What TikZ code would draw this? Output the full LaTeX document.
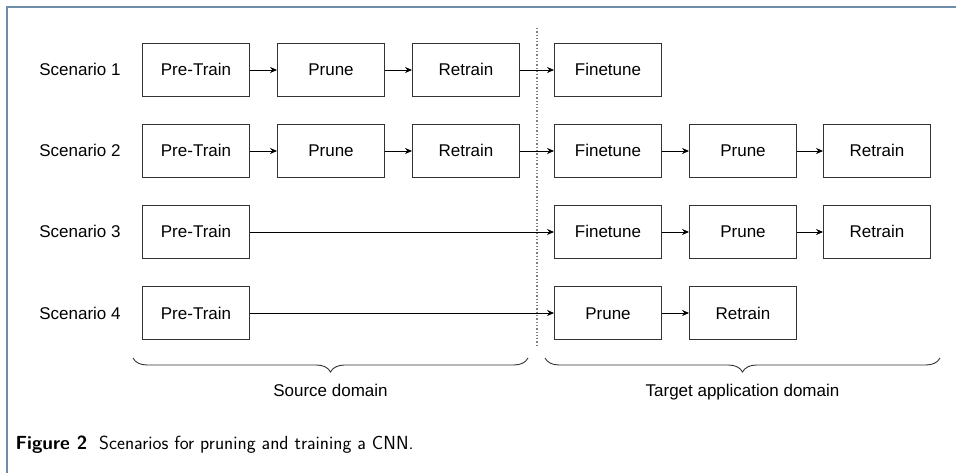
\documentclass[tikz,border=0pt]{standalone}
\usepackage{fontspec}
\setmainfont{Liberation Sans}
\usepackage{tikz}
\usetikzlibrary{arrows.meta,positioning}
\usetikzlibrary{decorations.pathreplacing}
\definecolor{framecol}{HTML}{6F8CA8}
\definecolor{boxcol}{HTML}{333333}
\tikzset{stage/.style={rectangle,draw=boxcol,line width=0.9pt,minimum width=107pt,minimum height=53pt,inner sep=0pt,text height=13pt,text depth=1pt,font=\fontsize{17}{20}\selectfont}}
\tikzset{scen/.style={text height=13pt,text depth=1pt,font=\fontsize{17}{20}\selectfont}}
\tikzset{flow/.style={-{Stealth[length=7pt,width=6pt]},line width=0.9pt}}
\tikzset{domainbrace/.style={decorate,decoration={brace,mirror,amplitude=14pt},draw=boxcol,line width=0.9pt}}

\begin{document}
\begin{tikzpicture}[x=1pt,y=-1pt]
\useasboundingbox (0,0) rectangle (956,473);
% \draw[help lines] (0,0) grid (956,473);
\draw[framecol,line width=1.5pt] (7,473) -- (7,7) -- (956,7);
%
\node (s1) [scen] at (80,70) {Scenario 1};
\node (s2) [scen] at (80,151) {Scenario 2};
\node (s3) [scen] at (80,232) {Scenario 3};
\node (s4) [scen] at (80,313) {Scenario 4};
%
\node (pt1) [stage] at (196,70) {Pre-Train};
\node (pr1) [stage] at (331,70) {Prune};
\node (rt1) [stage] at (466,70) {Retrain};
\node (ft1) [stage] at (608,70) {Finetune};
%
\node (pt2) [stage] at (196,151) {Pre-Train};
\node (pr2) [stage] at (331,151) {Prune};
\node (rt2) [stage] at (466,151) {Retrain};
\node (ft2) [stage] at (608,151) {Finetune};
\node (tp2) [stage] at (743,151) {Prune};
\node (tr2) [stage] at (877,151) {Retrain};
%
\node (pt3) [stage] at (196,232) {Pre-Train};
\node (ft3) [stage] at (608,232) {Finetune};
\node (tp3) [stage] at (743,232) {Prune};
\node (tr3) [stage] at (877,232) {Retrain};
%
\node (pt4) [stage] at (196,313) {Pre-Train};
\node (tp4) [stage] at (608,313) {Prune};
\node (tr4) [stage] at (743,313) {Retrain};
%
\path[flow] (pt1) edge (pr1) (pr1) edge (rt1) (rt1) edge (ft1);
\path[flow] (pt2) edge (pr2) (pr2) edge (rt2) (rt2) edge (ft2);
\path[flow] (ft2) edge (tp2) (tp2) edge (tr2);
\path[flow] (pt3) edge (ft3) (ft3) edge (tp3) (tp3) edge (tr3);
\path[flow] (pt4) edge (tp4) (tp4) edge (tr4);
%
\coordinate (dtop) at (537,28);
\coordinate (dbot) at (537,348);
\draw[gray,dotted,line width=1.3pt] (dtop) -- (dbot);
%
\coordinate (sl) at (133,358);
\coordinate (sr) at (528,358);
\coordinate (tl) at (545,358);
\coordinate (tr) at (940,358);
\draw[domainbrace] (sl) -- (sr) node[midway,below=22pt,scen] (src) {Source domain};
\draw[domainbrace] (tl) -- (tr) node[midway,below=22pt,scen] (tgt) {Target application domain};
%
\node (cap) [anchor=base west,font=\sffamily\fontsize{19}{22}\selectfont] at (12,449) {\textbf{Figure 2}\ \ Scenarios for pruning and training a CNN.};
\end{tikzpicture}
\end{document}
